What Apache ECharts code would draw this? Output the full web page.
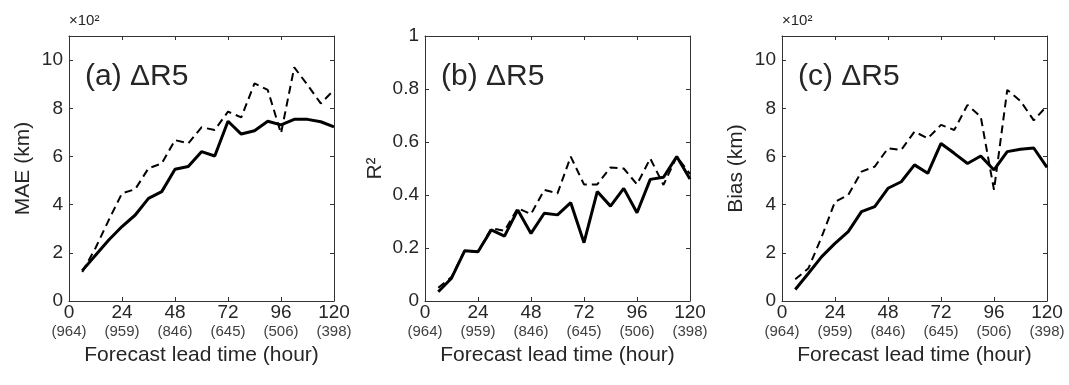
<!DOCTYPE html>
<html>
<head>
<meta charset="utf-8">
<script src="https://cdn.jsdelivr.net/npm/echarts@6/dist/echarts.min.js"></script>
<style>
  html, body { margin: 0; padding: 0; background: #fff; }
  #chart { width: 1069px; height: 385px; }
</style>
</head>
<body>
<div id="chart"></div>
<script>
// ---- data ----
const leadTimes = [6, 12, 18, 24, 30, 36, 42, 48, 54, 60, 66, 72, 78, 84, 90, 96, 102, 108, 114, 120];
const xTicks = [0, 24, 48, 72, 96, 120];
const sampleCounts = ['(964)', '(959)', '(846)', '(645)', '(506)', '(398)'];

// MAE (x10^2 km)
const maeSolid  = [1.26, 1.9, 2.53, 3.09, 3.57, 4.26, 4.54, 5.47, 5.58, 6.2, 6.02, 7.46, 6.93, 7.07, 7.46, 7.31, 7.54, 7.54, 7.44, 7.23];
const maeDashed = [1.2, 2.2, 3.36, 4.47, 4.64, 5.51, 5.71, 6.68, 6.54, 7.21, 7.1, 7.86, 7.62, 9.03, 8.76, 6.96, 9.7, 8.97, 8.2, 8.76];
// R^2
const r2Solid  = [0.035, 0.086, 0.19, 0.186, 0.268, 0.245, 0.343, 0.255, 0.331, 0.325, 0.371, 0.22, 0.413, 0.358, 0.425, 0.333, 0.459, 0.467, 0.545, 0.46];
const r2Dashed = [0.05, 0.09, 0.19, 0.185, 0.274, 0.265, 0.35, 0.328, 0.419, 0.406, 0.545, 0.44, 0.44, 0.504, 0.5, 0.44, 0.538, 0.438, 0.545, 0.48];
// Bias (x10^2 km)
const biasSolid  = [0.48, 1.15, 1.84, 2.39, 2.88, 3.71, 3.92, 4.68, 4.95, 5.65, 5.3, 6.54, 6.13, 5.71, 6.02, 5.44, 6.2, 6.3, 6.35, 5.55];
const biasDashed = [0.9, 1.36, 2.67, 4.12, 4.4, 5.37, 5.58, 6.34, 6.27, 7.03, 6.75, 7.31, 7.1, 8.14, 7.65, 4.61, 8.76, 8.3, 7.5, 8.1];

const panelTitles = ['(a) \u0394R5', '(b) \u0394R5', '(c) \u0394R5'];
const yNames = ['MAE (km)', 'R\u00B2', 'Bias (km)'];
const xName = 'Forecast lead time (hour)';
const scaleNote = '\u00D710\u00B2';

// ---- layout ----
const FONT = 'Liberation Sans, Arial, Helvetica, sans-serif';
const TXT = '#262626';
const AX = '#333';
const gridLefts = [69, 425, 782];
const gridTop = 36, gridW = 265, gridH = 265;
const yCfg = [
  { min: 0, max: 11, interval: 2, showMax: false, gap: 35 },
  { min: 0, max: 1, interval: 0.2, showMax: true, gap: 39 },
  { min: 0, max: 11, interval: 2, showMax: false, gap: 35 }
];
const seriesSets = [[maeSolid, maeDashed], [r2Solid, r2Dashed], [biasSolid, biasDashed]];

const grids = [], xAxes = [], yAxes = [], series = [], titles = [];
const toPairs = arr => leadTimes.map((t, i) => [t, arr[i]]);

for (let p = 0; p < 3; p++) {
  grids.push({ left: gridLefts[p], top: gridTop, width: gridW, height: gridH });
  const axisLine = { show: true, onZero: false, lineStyle: { color: AX, width: 1 } };
  const tick = { show: true, inside: true, length: 4, lineStyle: { color: AX } };
  xAxes.push({
    type: 'value', gridIndex: p, position: 'bottom', min: 0, max: 120, interval: 24,
    axisLine, axisTick: tick, splitLine: { show: false },
    name: xName, nameLocation: 'middle', nameGap: 40,
    nameTextStyle: { fontFamily: FONT, fontSize: 21, color: TXT },
    axisLabel: {
      margin: 2,
      formatter: v => {
        const i = xTicks.indexOf(v);
        return i < 0 ? '' : '{a|' + v + '}\n{b|' + sampleCounts[i] + '}';
      },
      rich: {
        a: { fontFamily: FONT, fontSize: 19, color: TXT, lineHeight: 19 },
        b: { fontFamily: FONT, fontSize: 15, color: '#404040', lineHeight: 20 }
      }
    }
  });
  xAxes.push({
    type: 'value', gridIndex: p, position: 'top', min: 0, max: 120, interval: 24,
    axisLine, axisTick: tick, axisLabel: { show: false }, splitLine: { show: false }
  });
  const yc = yCfg[p];
  yAxes.push({
    type: 'value', gridIndex: p, position: 'left', min: yc.min, max: yc.max, interval: yc.interval,
    axisLine, axisTick: tick, splitLine: { show: false },
    axisLabel: { fontFamily: FONT, fontSize: 19, color: TXT, margin: 6, showMaxLabel: yc.showMax },
    name: yNames[p], nameLocation: 'middle', nameGap: yc.gap,
    nameTextStyle: { fontFamily: FONT, fontSize: 21, color: TXT }
  });
  yAxes.push({
    type: 'value', gridIndex: p, position: 'right', min: yc.min, max: yc.max, interval: yc.interval,
    axisLine, axisTick: tick, axisLabel: { show: false }, splitLine: { show: false }
  });
  const [solid, dashed] = seriesSets[p];
  series.push({
    type: 'line', xAxisIndex: 2 * p, yAxisIndex: 2 * p, data: toPairs(dashed),
    symbol: 'none', lineStyle: { color: '#000', width: 2, type: [8, 5] }, z: 2
  });
  series.push({
    type: 'line', xAxisIndex: 2 * p, yAxisIndex: 2 * p, data: toPairs(solid),
    symbol: 'none', lineStyle: { color: '#000', width: 3 }, z: 3
  });
  titles.push({
    text: panelTitles[p], left: gridLefts[p] + 11, top: 57,
    textStyle: { fontFamily: FONT, fontSize: 30, fontWeight: 'normal', color: TXT }
  });
}
titles.push({ text: scaleNote, left: 64, top: 8, textStyle: { fontFamily: FONT, fontSize: 15, fontWeight: 'normal', color: TXT } });
titles.push({ text: scaleNote, left: 777, top: 8, textStyle: { fontFamily: FONT, fontSize: 15, fontWeight: 'normal', color: TXT } });

const chart = echarts.init(document.getElementById('chart'), null, { renderer: 'canvas' });
chart.setOption({
  animation: false,
  backgroundColor: '#fff',
  title: titles,
  grid: grids,
  xAxis: xAxes,
  yAxis: yAxes,
  series: series
});
</script>
</body>
</html>
